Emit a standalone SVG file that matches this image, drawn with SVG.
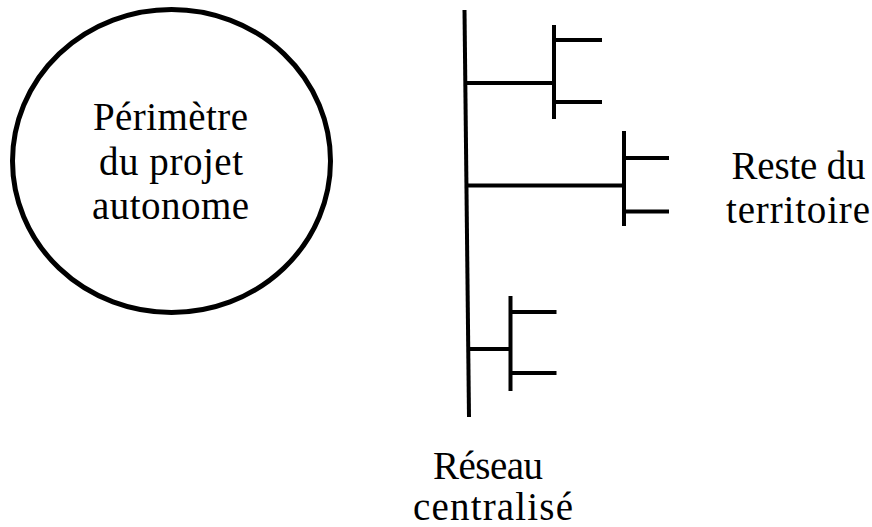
<svg xmlns="http://www.w3.org/2000/svg" width="872" height="527" viewBox="0 0 872 527">
<style>
.ln{stroke:#000;stroke-width:4;fill:none;stroke-linecap:butt}
.circ{stroke:#000;stroke-width:5;fill:#fff}
.t{font-family:"Liberation Serif","Times New Roman",serif;font-size:39px;fill:#000;text-anchor:middle}
</style>
<rect width="872" height="527" fill="#fff"/>
<g id="perimetre">
<ellipse class="circ" cx="171.5" cy="161" rx="159" ry="151.5"/>
<text class="t" x="170.5" y="130" textLength="155">Périmètre</text>
<text class="t" x="171" y="175" textLength="144">du projet</text>
<text class="t" x="170.5" y="219" textLength="157">autonome</text>
</g>
<g id="connectors">
<line class="ln" x1="464.5" y1="10" x2="469" y2="417"/>
<line class="ln" x1="465" y1="83" x2="554" y2="83"/>
<line class="ln" x1="554" y1="25" x2="554" y2="119"/>
<line class="ln" x1="556" y1="40" x2="602" y2="40"/>
<line class="ln" x1="556" y1="102" x2="602" y2="102"/>
<line class="ln" x1="467" y1="185.5" x2="626" y2="185.5"/>
<line class="ln" x1="624" y1="131" x2="624" y2="226"/>
<line class="ln" x1="626" y1="158" x2="669" y2="158"/>
<line class="ln" x1="626" y1="211.5" x2="669" y2="211.5"/>
<line class="ln" x1="468" y1="349" x2="510" y2="349"/>
<line class="ln" x1="510.5" y1="296" x2="510.5" y2="391"/>
<line class="ln" x1="512" y1="312" x2="556.5" y2="312"/>
<line class="ln" x1="512" y1="373" x2="556.5" y2="373"/>
</g>
<g id="reste">
<text class="t" x="798.5" y="179" textLength="134">Reste du</text>
<text class="t" x="798" y="223" textLength="144">territoire</text>
</g>
<g id="reseau">
<text class="t" x="488" y="479" textLength="110">Réseau</text>
<text class="t" x="493" y="520" textLength="160">centralisé</text>
</g>
</svg>
